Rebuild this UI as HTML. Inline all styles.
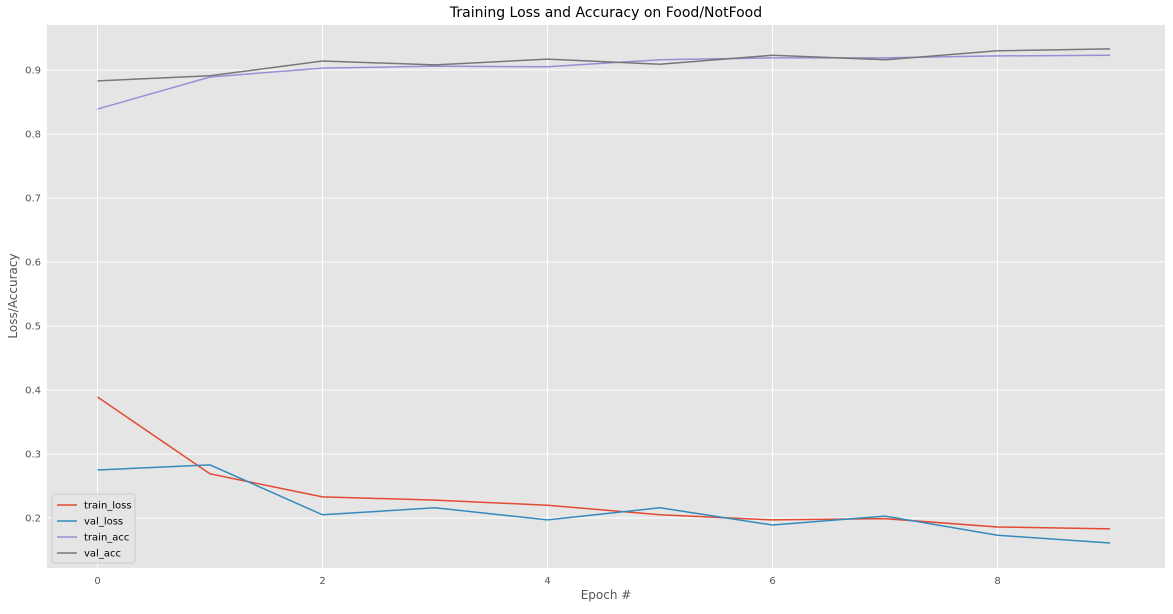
<!DOCTYPE html>
<html><head><meta charset="utf-8"><style>
body{margin:0;background:#fff;font-family:"Liberation Sans","DejaVu Sans",sans-serif}
svg text{font-family:"DejaVu Sans","Liberation Sans",sans-serif}
</style></head><body>
<svg id="chart" width="1173" height="609">
<rect x="47" y="25" width="1118" height="543" fill="#e5e5e5"/>
<g id="grid"></g><g id="lines"></g><g id="ticks"></g>
<text x="606" y="17" text-anchor="middle" font-size="14" fill="#000">Training Loss and Accuracy on Food/NotFood</text>
<text x="606" y="599" text-anchor="middle" font-size="12" fill="#555">Epoch #</text>
<text x="17" y="296" text-anchor="middle" font-size="12" fill="#555" transform="rotate(-90 17 296)">Loss/Accuracy</text>
<g id="legend"></g>
</svg>
<script>
const epochs=[0,1,2,3,4,5,6,7,8,9];
const trainLoss=[0.389,0.269,0.233,0.228,0.220,0.205,0.197,0.199,0.186,0.183];
const valLoss=[0.275,0.283,0.205,0.216,0.197,0.216,0.189,0.203,0.173,0.161];
const trainAcc=[0.839,0.889,0.903,0.906,0.905,0.916,0.919,0.919,0.922,0.923];
const valAcc=[0.883,0.891,0.914,0.908,0.917,0.909,0.923,0.916,0.930,0.933];
const xTicks=[0,2,4,6,8];
const yTicks=[0.2,0.3,0.4,0.5,0.6,0.7,0.8,0.9];
const seriesNames=["train_loss","val_loss","train_acc","val_acc"];
const colors=["#e24a33","#348abd","#988ed5","#777777"];
const NS="http://www.w3.org/2000/svg";
const xs=v=>97.5+v*112.5;
const ys=v=>518-(v-0.2)*640;
function mk(t,a,p){const e=document.createElementNS(NS,t);for(const k in a)e.setAttribute(k,a[k]);p.appendChild(e);return e;}
const grid=document.getElementById('grid'),ticks=document.getElementById('ticks');
xTicks.forEach(v=>{
const l=mk('line',{x1:xs(v),x2:xs(v),y1:25,y2:568,stroke:'#fff','stroke-width':1},grid);


const t=mk('text',{x:xs(v),y:584,'text-anchor':'middle','font-size':10,fill:'#555'},ticks);
t.textContent=v;


});
yTicks.forEach(v=>{
const l=mk('line',{x1:47,x2:1165,y1:ys(v),y2:ys(v),stroke:'#fff','stroke-width':1},grid);


const t=mk('text',{x:41,y:ys(v)+3.5,'text-anchor':'end','font-size':10,fill:'#555'},ticks);
t.textContent=v.toFixed(1);


});
const data=[trainLoss,valLoss,trainAcc,valAcc];
const lines=document.getElementById('lines');
data.forEach((s,i)=>{
const p=mk('polyline',{points:s.map((v,j)=>xs(epochs[j])+','+ys(v)).join(' '),fill:'none',stroke:colors[i],'stroke-width':1.5},lines);


});
const lg=document.getElementById('legend');
mk('rect',{x:52,y:494,width:83,height:69,fill:'#e5e5e5',stroke:'#ccc',rx:3},lg);
seriesNames.forEach((n,i)=>{
const y=505+i*16;
mk('line',{x1:57,x2:77,y1:y,y2:y,stroke:colors[i],'stroke-width':1.5},lg);
const t=mk('text',{x:84,y:y+3.5,'font-size':10,fill:'#000'},lg);
t.textContent=n;


});
</script>
</body></html>
